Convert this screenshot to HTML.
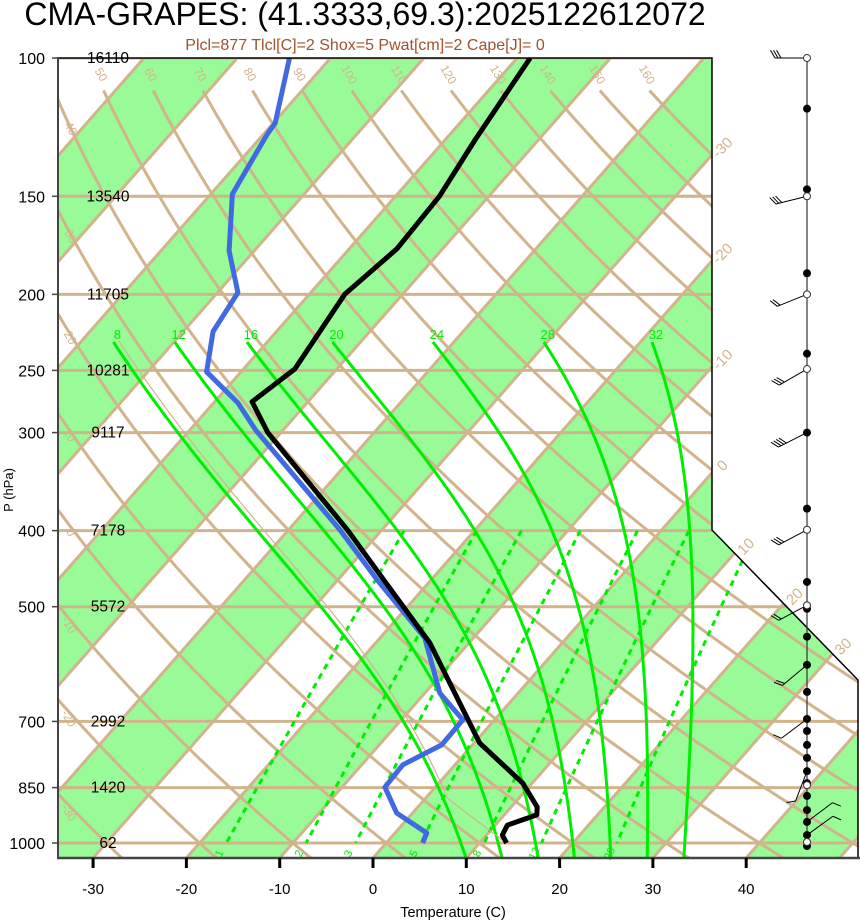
<!DOCTYPE html>
<html><head><meta charset="utf-8"><style>
html,body{margin:0;padding:0;background:#fff;}
svg{display:block;font-family:"Liberation Sans",sans-serif;}
</style></head><body>
<svg id="chart" width="860" height="921" viewBox="0 0 860 921" xmlns="http://www.w3.org/2000/svg">
<defs><clipPath id="plotclip"><polygon points="58,58 712,58 712,530 858,680 858,858 58,858"/></clipPath></defs>
<text x="365" y="25" font-size="32" text-anchor="middle" fill="#000">CMA-GRAPES: (41.3333,69.3):2025122612072</text>
<text x="365" y="50" font-size="16" text-anchor="middle" fill="#a0522d">Plcl=877 Tlcl[C]=2 Shox=5 Pwat[cm]=2 Cape[J]= 0</text>
<g id="plot" clip-path="url(#plotclip)"></g>
<g id="over"></g>
<text transform="translate(13,490) rotate(-90)" font-size="13" text-anchor="middle">P (hPa)</text>
<text x="453" y="917" font-size="14.5" text-anchor="middle">Temperature (C)</text>
</svg>
<script>
// ---- data ----
const tempP=[1000,977,949,921,900,839,746,556,462,399,300,274,249,200,175,150,127,100];
const tempT=[12.9,11.7,11.3,13.5,12.8,9.0,0.6,-14.2,-25.1,-33.7,-51.4,-56.0,-54.5,-56.2,-54.9,-55.3,-56.8,-58.6];
const dewP=[1000,971,916,849,795,750,697,644,548,462,399,298,275,251,223,199,176,149,125,121,100];
const dewT=[3.9,3.4,-1.7,-5.4,-5.6,-3.3,-3.4,-8.4,-15.2,-25.8,-34.5,-52.9,-57.4,-63.7,-66.8,-67.8,-72.7,-77.7,-79.6,-79.8,-84.4];
const presLevels=[100,150,200,250,300,400,500,700,850,1000];
const heightLabels=['16110','13540','11705','10281','9117','7178','5572','2992','1420','62'];
const tempTicks=[-30,-20,-10,0,10,20,30,40];
const dryThetas=[-30,-20,-10,0,10,20,30,40,50,60,70,80,90,100,110,120,130,140,150,160];
const moistThetas=[8,12,16,20,24,28,32];
const mixRatios=[1,2,3,5,8,12,20];
const isoLabels=[-30,-20,-10,0,10,20,30];
const windP=[100,150,200,249,300,399,498,593,695,810,940,977];
const windDir=[270,256,248,240,243,242,242,230,233,201,53,54];
const windSpd=[30,30,20,30,40,30,20,20,10,10,10,10];
const dotP=[116,147,188,238,300,375,465,503,546,593,642,695,720,750,779,810,839,871,908,940,977,1009];
const circP=[100,150,200,249,399,498,844,997];
const lclP=877;

// ---- axes ----
const X0=373,SX=9.33,K=0.88,YB=858;
function yP(p){return 843-340.9*Math.log(1000/p);}
function xT(T,p){return X0+SX*T+K*(YB-yP(p));}
function xTY(T,y){return X0+SX*T+K*(YB-y);}
const NS='http://www.w3.org/2000/svg';
const plot=document.getElementById('plot'),over=document.getElementById('over');
function mk(par,tag,a,txt){const e=document.createElementNS(NS,tag);for(const k in a)e.setAttribute(k,a[k]);if(txt!==undefined)e.textContent=txt;par.appendChild(e);return e;}
function pts(arr){return arr.map(q=>q[0].toFixed(1)+','+q[1].toFixed(1)).join(' ');}
const TAN='#d2b48c',GRN='#00ee00';
function rightEdge(y){return y<=530?712:(y>=680?858:712+(y-530)*146/150);}

// green bands
for(let t=-100;t<=60;t+=20){
  const e=mk(plot,'polygon',{points:pts([[xTY(t,58),58],[xTY(t+10,58),58],[xTY(t+10,858),858],[xTY(t,858),858]]),fill:'#98fb98'});
  
  
}
// isobars
presLevels.forEach(p=>{
  const e=mk(plot,'line',{x1:58,x2:860,y1:yP(p),y2:yP(p),stroke:TAN,'stroke-width':3});
  
  
});
// isotherms
for(let t=-100;t<=70;t+=10){
  const e=mk(plot,'line',{x1:xTY(t,858),y1:858,x2:xTY(t,58),y2:58,stroke:TAN,'stroke-width':3});
  
  
}
// dry adiabats
dryThetas.forEach(th=>{
  const a=[];let lab=null;
  for(let p=110;p<=1046;p+=4){const T=(th+273.15)*Math.pow(p/1000,0.286)-273.15;const x=xT(T,p),y=yP(p);a.push([x,y]);
    if(!lab&&x>=62&&x<=rightEdge(y)-4)lab=[x,y];}
  const e=mk(plot,'polyline',{points:pts(a),fill:'none',stroke:TAN,'stroke-width':3});
  
  
  if(lab){const top=lab[1]<100;const lx=top?lab[0]-6:lab[0]+3,ly=top?lab[1]-14:lab[1]+16;
    const t=mk(over,'text',{x:lx,y:ly,'font-size':12,fill:TAN,'text-anchor':'middle',transform:`rotate(60 ${lx} ${ly})`},String(th));
    
    }
});
// mixing ratio
mixRatios.forEach(w=>{
  const a=[];
  for(let p=400;p<=1000;p+=10){const es=w*p/(622+w);const l=Math.log(es/6.112);const Td=243.5*l/(17.67-l);a.push([xT(Td,p),yP(p)]);}
  const e=mk(plot,'polyline',{points:pts(a),fill:'none',stroke:GRN,'stroke-width':3,'stroke-dasharray':'6,5'});
  
  
  const b=a[a.length-1];const lx=b[0]-4,ly=b[1]+12;
  const t=mk(over,'text',{x:lx,y:ly,'font-size':11,fill:GRN,'text-anchor':'middle',transform:`rotate(-65 ${lx} ${ly})`},String(w));
  
  
});
// moist adiabat integration
function dTdp(T,p){const Tk=T+273.15;const es=6.112*Math.exp(17.67*T/(T+243.5));const rs=0.622*es/(p-es);
  return (287*Tk+2.5e6*rs)/(p*(1004+2.5e6*2.5e6*rs*0.622/(287*Tk*Tk)));}
function moistPath(p0,T0,pTop){const a=[[p0,T0]];let p=p0,T=T0;
  while(p>pTop){const dp=-2;const k1=dTdp(T,p),k2=dTdp(T+k1*dp/2,p+dp/2),k3=dTdp(T+k2*dp/2,p+dp/2),k4=dTdp(T+k3*dp,p+dp);T+=dp*(k1+2*k2+2*k3+k4)/6;p+=dp;a.push([p,T]);}
  return a;}
moistThetas.forEach(th=>{
  const up=moistPath(1000,th,230);
  const dn=[];let p=1000,T=th;while(p<1046){const dp=2;T+=dp*dTdp(T,p);p+=dp;dn.push([p,T]);}
  const all=dn.reverse().concat(up);
  const e=mk(plot,'polyline',{points:pts(all.map(q=>[xT(q[1],q[0]),yP(q[0])])),fill:'none',stroke:GRN,'stroke-width':3});
  
  
  const tp=up[up.length-1];
  const t=mk(over,'text',{x:xT(tp[1],tp[0])+4,y:yP(tp[0])-3,'font-size':13,fill:GRN,'text-anchor':'middle'},String(th));
  
  
});
// parcel path
{
  const a=[];const th=tempT[0]+273.15;
  for(let p=1000;p>=lclP;p-=4){a.push([p,th*Math.pow(p/1000,0.286)-273.15]);}
  const T1=th*Math.pow(lclP/1000,0.286)-273.15;
  const m=moistPath(lclP,T1,230);
  const all=a.concat(m);
  const e=mk(plot,'polyline',{points:pts(all.map(q=>[xT(q[1],q[0]),yP(q[0])])),fill:'none',stroke:TAN,'stroke-width':1.2});
  
  
}
// isotherm labels
isoLabels.forEach(t=>{
  let cy=58;for(let yy=58;yy<=858;yy++){if(xTY(t,yy)<=rightEdge(yy)){cy=yy;break;}}
  const cx=rightEdge(cy);const lx=cx+14,ly=cy-4;
  const e=mk(over,'text',{x:lx,y:ly,'font-size':15,fill:TAN,'text-anchor':'middle',transform:`rotate(-45 ${lx} ${ly})`},String(t));
  
  
});
// profiles
{
  const e=mk(plot,'polyline',{points:pts(dewP.map((p,i)=>[xT(dewT[i],p),yP(p)])),fill:'none',stroke:'#4169e1','stroke-width':5,'stroke-linejoin':'round'});
  
  
  const f=mk(plot,'polyline',{points:pts(tempP.map((p,i)=>[xT(tempT[i],p),yP(p)])),fill:'none',stroke:'#000','stroke-width':5,'stroke-linejoin':'round'});
  
  
}
// border
{
  const e=mk(over,'polyline',{points:'58,58 712,58 712,530 858,680 858,858',fill:'none',stroke:'#000','stroke-width':1.5});
  
  
  const l=mk(over,'line',{x1:58,y1:57,x2:58,y2:859,stroke:'#444','stroke-width':2});
  
  
  const b=mk(over,'line',{x1:57,y1:858,x2:860,y2:858,stroke:'#444','stroke-width':2.5});
  
  
}
// y labels
presLevels.forEach((p,i)=>{
  const y=yP(p);
  const tk=mk(over,'line',{x1:52,x2:58,y1:y,y2:y,stroke:'#444','stroke-width':1.5});
  
  
  const t=mk(over,'text',{x:45,y:y+6,'font-size':16,'text-anchor':'end'},String(p));
  
  
  const h=mk(over,'text',{x:108,y:y+5,'font-size':15.5,'text-anchor':'middle'},heightLabels[i]);
  
  
});
// x ticks
tempTicks.forEach(t=>{
  const x=X0+SX*t;
  const tk=mk(over,'line',{x1:x,x2:x,y1:858,y2:868,stroke:'#000','stroke-width':3});
  
  
  const lb=mk(over,'text',{x:x,y:894,'font-size':15,'text-anchor':'middle'},String(t));
  
  
});
// wind column
const WX=807;
{
  const s=mk(over,'line',{x1:WX,x2:WX,y1:yP(100),y2:yP(1000),stroke:'#333','stroke-width':1.2});
  
  
}
windP.forEach((p,i)=>{
  const y=yP(p),d=windDir[i]*Math.PI/180,L=32;
  const ux=Math.sin(d),uy=-Math.cos(d);
  const ex=WX+ux*L,ey=y+uy*L;
  const g=mk(over,'g',{stroke:'#000','stroke-width':1,fill:'none'});
  
  
  mk(g,'line',{x1:WX,y1:y,x2:ex,y2:ey});
  const nx=-uy,ny=ux;const fx=0.5*ux+0.866*nx,fy=0.5*uy+0.866*ny;
  let sp=windSpd[i],k=0;
  while(sp>=10){const bx=ex-ux*k*3,by=ey-uy*k*3;mk(g,'line',{x1:bx,y1:by,x2:bx+fx*9,y2:by+fy*9});sp-=10;k++;}
  if(sp>=5){const bx=ex-ux*k*3,by=ey-uy*k*3;mk(g,'line',{x1:bx,y1:by,x2:bx+fx*5,y2:by+fy*5});}
});
dotP.forEach(p=>{
  const c=mk(over,'circle',{cx:WX,cy:yP(p),r:4,fill:'#000'});
  
  
});
circP.forEach(p=>{
  const c=mk(over,'circle',{cx:WX,cy:yP(p),r:3.5,fill:'#fff',stroke:'#333','stroke-width':1});
  
  
});
</script>
</body></html>
